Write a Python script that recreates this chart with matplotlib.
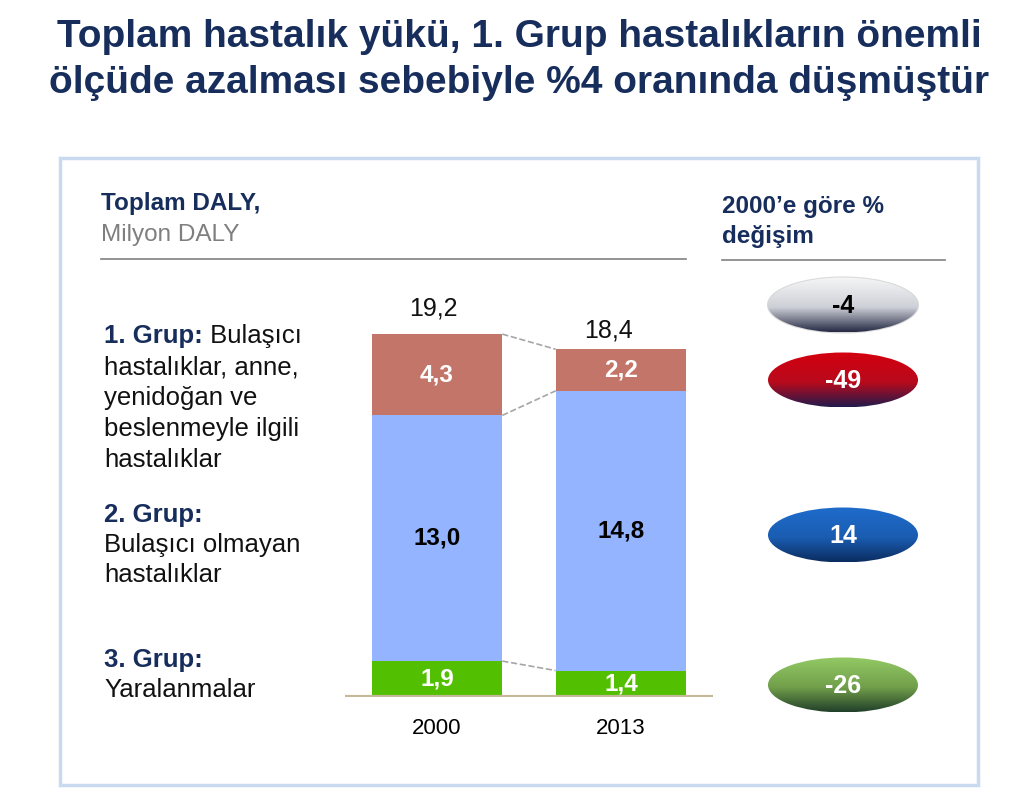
import numpy as np
import matplotlib
matplotlib.use("Agg")
import matplotlib.pyplot as plt
from matplotlib.patches import Ellipse, Rectangle
from matplotlib.colors import to_rgb

plt.rcParams["font.family"] = ["Liberation Sans", "DejaVu Sans"]

# data
years = ["2000", "2013"]
grup3 = [1.9, 1.4]     # Yaralanmalar
grup2 = [13.0, 14.8]   # Bulaşıcı olmayan hastalıklar
grup1 = [4.3, 2.2]     # Bulaşıcı hastalıklar, anne, yenidoğan ...
totals = [19.2, 18.4]
change_pct = [-4, -49, 14, -26]   # toplam, 1. grup, 2. grup, 3. grup

def fmt(v):
    return f"{v:.1f}".replace(".", ",")

NAVY = "#172E5C"
RED = "#C27568"
BLUE = "#94B4FF"
GREEN = "#52C000"

fig = plt.figure(figsize=(10.24, 8.10), dpi=100)

# overlay in pixel coordinates
ov = fig.add_axes([0, 0, 1, 1])
ov.set_xlim(0, 1024)
ov.set_ylim(810, 0)
ov.axis("off")

# title
ov.text(519, 47, "Toplam hastalık yükü, 1. Grup hastalıkların önemli",
        ha="center", va="baseline", fontsize=28, fontweight="bold", color=NAVY)
ov.text(519, 93, "ölçüde azalması sebebiyle %4 oranında düşmüştür",
        ha="center", va="baseline", fontsize=28, fontweight="bold", color=NAVY)

# panel
ov.add_patch(Rectangle((60, 158), 918, 627, fill=False, ec="#C9DAF0", lw=2.5))

# headers
HDR = 17.5
ov.text(101, 210, "Toplam DALY,", fontsize=HDR, fontweight="bold", color=NAVY, va="baseline")
ov.text(101, 241, "Milyon DALY", fontsize=HDR, color="#7F7F7F", va="baseline")
ov.plot([101, 686], [259, 259], color="#808080", lw=1.2)
ov.text(722, 213, "2000\u2019e göre %", fontsize=HDR, fontweight="bold", color=NAVY, va="baseline")
ov.text(722, 243, "değişim", fontsize=HDR, fontweight="bold", color=NAVY, va="baseline")
ov.plot([722, 945], [260, 260], color="#808080", lw=1.2)

# left group labels
groups = [
    ("1. Grup:", " Bulaşıcı", ["hastalıklar, anne,", "yenidoğan ve",
                                "beslenmeyle ilgili", "hastalıklar"], 343, 31),
    ("2. Grup:", "", ["Bulaşıcı olmayan", "hastalıklar"], 522, 30),
    ("3. Grup:", "", ["Yaralanmalar"], 667, 30),
]
LBL = 18.5
heads = []
for head, rest, lines, y0, dy in groups:
    t = ov.text(104, y0, head, fontsize=LBL, fontweight="bold", color=NAVY, va="baseline")
    heads.append((t, rest, y0))
    for i, ln in enumerate(lines):
        ov.text(104, y0 + dy * (i + 1), ln, fontsize=LBL, color="#111111", va="baseline")
fig.canvas.draw()
for t, rest, y0 in heads:
    if rest:
        bb = t.get_window_extent()
        xe = ov.transData.inverted().transform((bb.x1, bb.y0))[0]
        ov.text(xe, y0, rest, fontsize=LBL, color="#111111", va="baseline")

# gradient ellipses
ell_y = [305, 380, 535, 685]
ell_cols = [("#F6F6F6", "#CDD0D7", "#262B45"),
            ("#D3000F", "#B80A1C", "#231A4C"),
            ("#1F6CCB", "#1A5DB2", "#0B2C60"),
            ("#93C965", "#719F4A", "#22402A")]
txt_cols = ["black", "white", "white", "white"]
ew, eh = 150, 55
for cy, (c0, c1, c2), val, tc in zip(ell_y, ell_cols, change_pct, txt_cols):
    n = 100
    s = np.linspace(0, 1, n)
    a, b, c = np.array(to_rgb(c0)), np.array(to_rgb(c1)), np.array(to_rgb(c2))
    grad = np.zeros((n, 1, 3))
    for i, v in enumerate(s):
        if v < 0.55:
            grad[i, 0] = a + (b - a) * (v / 0.55)
        else:
            grad[i, 0] = b + (c - b) * ((v - 0.55) / 0.45)
    el = Ellipse((843, cy), ew, eh, transform=ov.transData, fc="none",
                 ec="#D8D8D8" if val == -4 else "none", lw=1.5)
    ov.add_patch(el)
    im = ov.imshow(grad, extent=[843 - ew / 2, 843 + ew / 2, cy + eh / 2, cy - eh / 2],
                   aspect="auto", origin="upper", interpolation="bilinear", zorder=1)
    im.set_clip_path(el)
    ov.text(843, cy + 1, f"{val}", ha="center", va="center", fontsize=18,
            fontweight="bold", color=tc, zorder=3)
ov.set_xlim(0, 1024)
ov.set_ylim(810, 0)

# bar chart
ax = fig.add_axes([345 / 1024, (810 - 697) / 810, 368 / 1024, 378 / 810])
ax.patch.set_alpha(0)
x = np.arange(len(years))
w = 0.71
ax.bar(x, grup3, w, color=GREEN, zorder=2)
ax.bar(x, grup2, w, bottom=grup3, color=BLUE, zorder=2)
b12 = np.array(grup3) + np.array(grup2)
ax.bar(x, grup1, w, bottom=b12, color=RED, zorder=2)
ax.set_xlim(-0.5, 1.5)
ax.set_ylim(0, 20)
ax.axhline(0, color="#C4B998", lw=3, zorder=3)
for s in ax.spines.values():
    s.set_visible(False)
ax.set_yticks([])
ax.set_xticks(x, years, fontsize=16)
ax.tick_params(axis="x", length=0, pad=15)

# connectors
levels = [grup3, list(b12), totals]
for lv in levels:
    ax.plot([x[0] + w / 2, x[1] - w / 2], [lv[0], lv[1]], ls="--", color="#A6A6A6",
            lw=1.2, zorder=1)

# segment labels
for i in range(len(years)):
    ax.text(x[i], grup3[i] / 2, fmt(grup3[i]), ha="center", va="center",
            fontsize=17.5, fontweight="bold", color="white", zorder=4)
    ax.text(x[i], grup3[i] + grup2[i] / 2, fmt(grup2[i]), ha="center", va="center",
            fontsize=17.5, fontweight="bold", color="black", zorder=4)
    ax.text(x[i], b12[i] + grup1[i] / 2, fmt(grup1[i]), ha="center", va="center",
            fontsize=17.5, fontweight="bold", color="white", zorder=4)

# totals
tot_off = [(-4, 19), (-12, 12)]
for i in range(len(years)):
    ax.annotate(fmt(totals[i]), (x[i], totals[i]), xytext=tot_off[i],
                textcoords="offset pixels", ha="center", va="baseline",
                fontsize=18, color="#111111")

fig.savefig("out.png", dpi=100)
